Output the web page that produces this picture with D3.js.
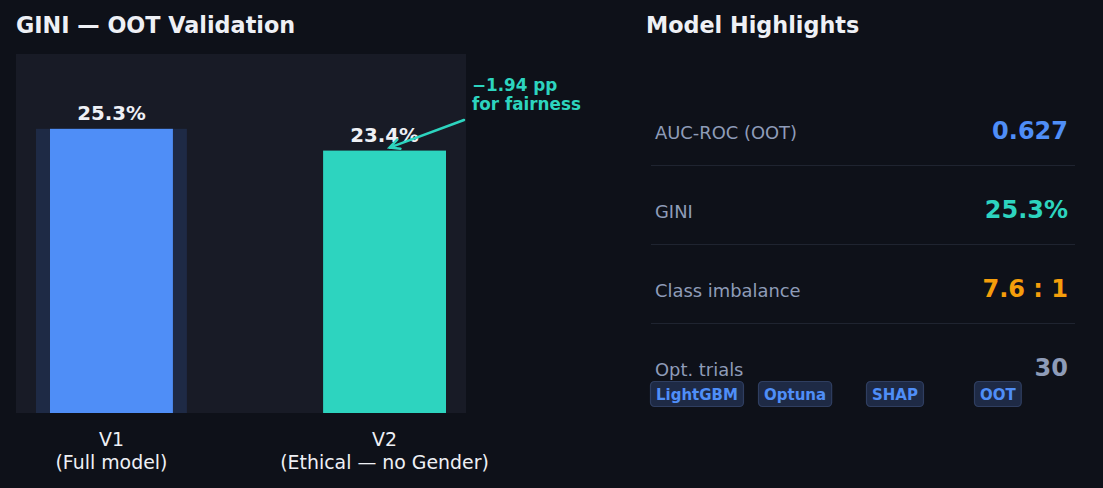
<!DOCTYPE html>
<html>
<head>
<meta charset="utf-8">
<script src="https://cdn.jsdelivr.net/npm/d3@7"></script>
<style>
  html, body { margin: 0; padding: 0; background: #0e1119; }
  svg { display: block; font-family: "DejaVu Sans", sans-serif; }
</style>
</head>
<body>
<svg id="chart" width="1103" height="488"></svg>
<script>
// data
let versions = ["V1", "V2"];
let versionNotes = ["(Full model)", "(Ethical — no Gender)"];
let gini = [25.33, 23.39];
let barColors = ["#4f8ef7", "#2dd4bf"];

let metricLabels = ["AUC-ROC (OOT)", "GINI", "Class imbalance", "Opt. trials"];
let metricValues = ["0.627", "25.3%", "7.6 : 1", "30"];
let metricColors = ["#4f8ef7", "#2dd4bf", "#f59e0b", "#8e9cb8"];
let tags = ["LightGBM", "Optuna", "SHAP", "OOT"];

// colors
let colorBg = "#0e1119";
let colorPlot = "#181b26";
let colorText = "#eef0f5";
let colorMuted = "#8e9cb8";
let colorTeal = "#2dd4bf";

let svg = d3.select("#chart");
let width = 1103, height = 488;

svg.append("rect").attr("width", width).attr("height", height).attr("fill", colorBg);

// ---- left: bar chart
let plot = {left: 16, right: 466, top: 54, bottom: 413};

svg.append("text")
    .attr("x", 16).attr("y", 33)
    .attr("fill", colorText)
    .style("font-size", "22.3px").style("font-weight", "bold")
    .text("GINI — OOT Validation");

svg.append("rect")
    .attr("x", plot.left).attr("y", plot.top)
    .attr("width", plot.right - plot.left).attr("height", plot.bottom - plot.top)
    .attr("fill", colorPlot);

let x = d3.scaleBand()
    .domain(versions)
    .range([plot.left, 480])
    .paddingInner(0.55)
    .paddingOuter(0.1245);

let y = d3.scaleLinear()
    .domain([0, 32])
    .range([plot.bottom, plot.top]);

let g = svg.append("g");

// highlight behind V1
g.append("rect")
    .attr("x", x("V1") - 14)
    .attr("y", y(gini[0]))
    .attr("width", x.bandwidth() + 28)
    .attr("height", y(0) - y(gini[0]))
    .attr("fill", "#1e2a45");

g.selectAll(".bar")
    .data(versions)
    .enter()
    .append("rect")
    .attr("class", "bar")
    .attr("x", d => x(d))
    .attr("y", (d, i) => y(gini[i]))
    .attr("width", x.bandwidth())
    .attr("height", (d, i) => y(0) - y(gini[i]))
    .attr("fill", (d, i) => barColors[i]);

g.selectAll(".val")
    .data(versions)
    .enter()
    .append("text")
    .attr("class", "val")
    .attr("x", d => x(d) + x.bandwidth() / 2)
    .attr("y", (d, i) => y(gini[i]) - 9)
    .attr("text-anchor", "middle")
    .attr("fill", colorText)
    .style("font-size", "19.8px").style("font-weight", "bold")
    .text((d, i) => gini[i].toFixed(1) + "%");

// x labels
let xl = g.selectAll(".xlab")
    .data(versions)
    .enter()
    .append("text")
    .attr("class", "xlab")
    .attr("text-anchor", "middle")
    .attr("fill", colorText)
    .style("font-size", "18.9px");
xl.append("tspan")
    .attr("x", d => x(d) + x.bandwidth() / 2).attr("y", 446)
    .text(d => d);
xl.append("tspan")
    .attr("x", d => x(d) + x.bandwidth() / 2).attr("y", 469)
    .text((d, i) => versionNotes[i]);

// annotation
let diff = gini[1] - gini[0];
let ann = svg.append("text")
    .attr("fill", colorTeal)
    .style("font-size", "16.8px").style("font-weight", "bold");
ann.append("tspan").attr("x", 472).attr("y", 91).text("−" + Math.abs(diff).toFixed(2) + " pp");
ann.append("tspan").attr("x", 472).attr("y", 110).text("for fairness");

let tip = [x("V2") + x.bandwidth() / 2 + 5, y(gini[1]) - 3];
let tail = [464, 120];
let ang = Math.atan2(tail[1] - tip[1], tail[0] - tip[0]);
let hl = 11, ha = 0.45;
svg.append("path")
    .attr("d", "M" + tail + "L" + tip +
        "M" + [tip[0] + hl * Math.cos(ang + ha), tip[1] + hl * Math.sin(ang + ha)] +
        "L" + tip +
        "L" + [tip[0] + hl * Math.cos(ang - ha), tip[1] + hl * Math.sin(ang - ha)])
    .attr("fill", "none")
    .attr("stroke", colorTeal)
    .attr("stroke-width", 2.5)
    .attr("stroke-linecap", "round");

// ---- right: highlights
svg.append("text")
    .attr("x", 646).attr("y", 33)
    .attr("fill", colorText)
    .style("font-size", "22.3px").style("font-weight", "bold")
    .text("Model Highlights");

let rowY = d3.scalePoint()
    .domain(metricLabels)
    .range([139, 376]);

let rows = svg.selectAll(".row")
    .data(metricLabels)
    .enter()
    .append("g")
    .attr("class", "row")
    .attr("transform", d => "translate(0," + rowY(d) + ")");

rows.append("text")
    .attr("x", 655).attr("y", 0)
    .attr("fill", colorMuted)
    .style("font-size", "17.9px")
    .text(d => d);

rows.append("text")
    .attr("x", 1068).attr("y", 0)
    .attr("text-anchor", "end")
    .attr("fill", (d, i) => metricColors[i])
    .style("font-size", "24px").style("font-weight", "bold")
    .text((d, i) => metricValues[i]);

rows.filter((d, i) => i < metricLabels.length - 1)
    .append("line")
    .attr("x1", 651).attr("x2", 1075)
    .attr("y1", 26.5).attr("y2", 26.5)
    .attr("stroke", "#1f2430")
    .attr("stroke-width", 1);

// tags
let tagX = d3.scalePoint().domain(tags).range([650, 974]);
let tg = svg.selectAll(".tag")
    .data(tags)
    .enter()
    .append("g")
    .attr("class", "tag")
    .attr("transform", d => "translate(" + tagX(d) + ",381)");

tg.append("text")
    .attr("x", 6).attr("y", 19)
    .attr("fill", "#4f8ef7")
    .style("font-size", "15px").style("font-weight", "bold")
    .text(d => d);

tg.each(function() {
    let t = d3.select(this).select("text");
    let w = t.node().getComputedTextLength();
    d3.select(this).insert("rect", "text")
        .attr("x", 0.5).attr("y", 0.5)
        .attr("width", w + 11).attr("height", 25)
        .attr("rx", 4)
        .attr("fill", "#1e2a45")
        .attr("stroke", "#2f3e60")
        .attr("stroke-width", 1.2);
});
</script>
</body>
</html>
